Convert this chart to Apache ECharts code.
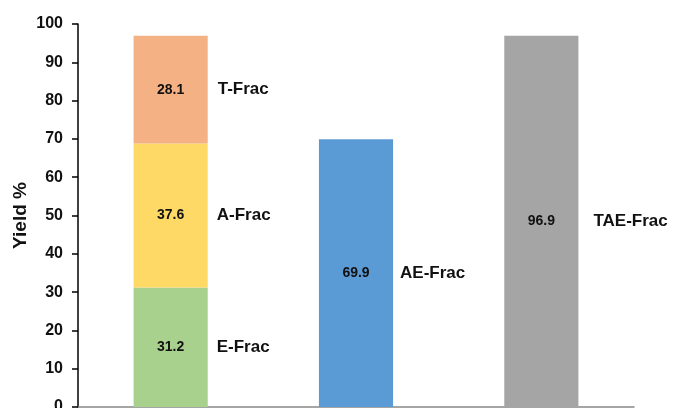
<!DOCTYPE html>
<html><head><meta charset="utf-8">
<script src="https://cdn.jsdelivr.net/npm/echarts@6/dist/echarts.min.js"></script>
<style>html,body{margin:0;padding:0;background:#fff}#c{width:689px;height:408px}</style>
</head><body><div id="c"></div>
<script>
const categories = ['Stacked', 'AE', 'TAE'];
const eFrac = [31.2, null, null];
const aFrac = [37.6, null, null];
const tFrac = [28.1, null, null];
const aeFrac = [null, 69.9, null];
const taeFrac = [null, null, 96.9];
const seriesNames = ['E-Frac', 'A-Frac', 'T-Frac', 'AE-Frac', 'TAE-Frac'];
const seriesData = [eFrac, aFrac, tFrac, aeFrac, taeFrac];
const colors = ['#A9D18E', '#FFD966', '#F4B183', '#5B9BD5', '#A5A5A5'];
const labelDist = [9, 9, 10, 7, 15];
const yTicks = [0, 10, 20, 30, 40, 50, 60, 70, 80, 90, 100];

const font = 'Liberation Sans';
const series = [];
seriesData.forEach((d, i) => {
  series.push({
    name: seriesNames[i], type: 'bar', stack: 'a', data: d,
    barWidth: '40%', barGap: '-100%',
    itemStyle: { color: colors[i] },
    label: { show: true, position: 'inside', fontFamily: font, fontWeight: 'bold', fontSize: 14, color: '#111',
      formatter: p => p.value.toFixed(1) }
  });
});
seriesData.forEach((d, i) => {
  series.push({
    name: seriesNames[i] + '_lbl', type: 'bar', stack: 'b', data: d,
    barWidth: '40%', barGap: '-100%', silent: true,
    itemStyle: { color: 'rgba(0,0,0,0)' },
    label: { show: true, position: 'right', distance: labelDist[i], fontFamily: font, fontWeight: 'bold', fontSize: 17, color: '#111',
      formatter: () => seriesNames[i] }
  });
});

const chart = echarts.init(document.getElementById('c'));
chart.setOption({
  animation: false,
  grid: { left: 78, right: 55, top: 24, bottom: 1, containLabel: false, outerBoundsMode: 'none' },
  xAxis: { type: 'category', data: categories,
    axisLine: { lineStyle: { color: '#888', width: 1.5 } },
    axisTick: { show: false }, axisLabel: { show: false } },
  yAxis: { type: 'value', min: yTicks[0], max: yTicks[yTicks.length - 1], interval: 10,
    name: 'Yield %', nameLocation: 'middle', nameGap: 48, nameRotate: 90, nameMoveOverlap: false,
    nameTextStyle: { fontFamily: font, fontWeight: 'bold', fontSize: 19, color: '#111' },
    axisLine: { show: true, lineStyle: { color: '#000', width: 1.5 } },
    axisTick: { show: true, inside: false, length: 6, lineStyle: { color: '#000', width: 1.5 } },
    axisLabel: { fontFamily: font, fontWeight: 'bold', fontSize: 16, color: '#111', margin: 15 },
    splitLine: { show: false } },
  series: series
});
</script></body></html>
